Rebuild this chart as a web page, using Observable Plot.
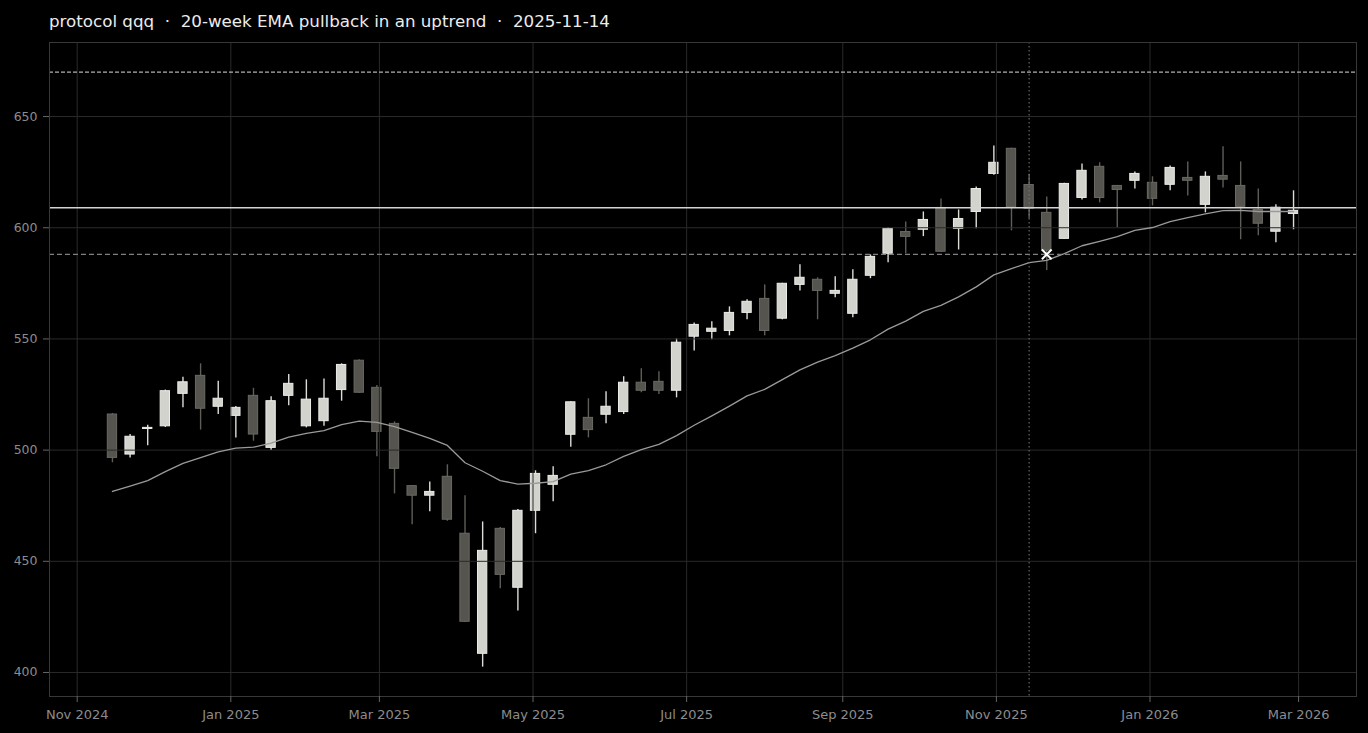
<!DOCTYPE html>
<html>
<head>
<meta charset="utf-8">
<script src="https://cdn.jsdelivr.net/npm/d3@7"></script>
<script src="https://cdn.jsdelivr.net/npm/@observablehq/plot@0.6"></script>
<style>
  html, body { margin: 0; padding: 0; background: #000; }
  #title { height: 36px; box-sizing: border-box; padding: 11px 0 0 49px; color: #ececec;
           font-family: "DejaVu Sans", sans-serif; font-size: 16.7px; line-height: 20px; white-space: pre; }
  #chart svg { display: block; }
</style>
</head>
<body>
<div id="title">protocol qqq  ·  20-week EMA pullback in an uptrend  ·  2025-11-14</div>
<div id="chart"></div>
<script>
const dates = ["2024-11-15","2024-11-22","2024-11-29","2024-12-06","2024-12-13","2024-12-20","2024-12-27",
"2025-01-03","2025-01-10","2025-01-17","2025-01-24","2025-01-31","2025-02-07","2025-02-14","2025-02-21","2025-02-28",
"2025-03-07","2025-03-14","2025-03-21","2025-03-28","2025-04-04","2025-04-11","2025-04-18","2025-04-25",
"2025-05-02","2025-05-09","2025-05-16","2025-05-23","2025-05-30","2025-06-06","2025-06-13","2025-06-20","2025-06-27",
"2025-07-04","2025-07-11","2025-07-18","2025-07-25","2025-08-01","2025-08-08","2025-08-15","2025-08-22","2025-08-29",
"2025-09-05","2025-09-12","2025-09-19","2025-09-26","2025-10-03","2025-10-10","2025-10-17","2025-10-24","2025-10-31",
"2025-11-07","2025-11-14","2025-11-21","2025-11-28","2025-12-05","2025-12-12","2025-12-19","2025-12-26",
"2026-01-02","2026-01-09","2026-01-16","2026-01-23","2026-01-30","2026-02-06","2026-02-13","2026-02-20","2026-02-27"];

const open  = [516,498,509.5,510.7,525.3,533.4,519.5,515.4,524.4,501,524.4,510.7,513,527,540.2,528,511.8,483.8,479.5,488,462.4,408.4,464.6,438.1,472.7,484.4,506.9,514.5,515.9,517.1,530.3,530.7,526.7,551,553.2,553.6,561.7,568,559.1,574.3,576.6,570.3,561.3,578.4,588.3,598.1,599.1,608.9,599.5,607.1,624.2,635.5,619.2,606.7,595,613.4,627.4,618.8,621.1,620.2,619.3,622.4,610.3,623.3,618.8,608,598.2,606.2];
const high  = [516.5,507,511.2,527,532.8,538.8,531,519.6,527.8,524,534,531.6,532,538.8,540.6,529,512.7,484,485.7,493.4,479.5,467.7,465.2,473.3,490.7,492.5,521.8,523.1,526.3,533,536.6,535.2,550,557.2,557.7,564.4,567.6,574.3,575,583.3,577.5,578,581.1,587.8,600,602.6,607.1,612.9,608,618.3,636.8,635.8,624,613.8,620,628.7,629.2,619,625.1,622.9,627.8,629.6,625.1,636.4,629.6,617.4,610.3,616.6];
const low   = [494.3,496.5,502,510.2,519,509,516,505.5,504,499.8,520,510,510.7,522,525.6,497,480.3,466.4,472.3,468,422.5,402.4,437.6,427.6,462.4,476.8,501.3,505.5,511.8,516,525.8,525,523.5,544.6,549.6,551.4,558.6,551.4,558.6,571.6,558.6,568.5,559.5,577.1,584.2,588.3,596,589,590,599.5,623.6,598.6,604,580.8,594.8,612.5,611.2,600,617.4,609.8,616.6,614.3,606.7,617.9,594.6,596.4,593.2,599.1];
const close = [496.5,506,510,526.5,530.5,518.6,523.1,519,507,522,529.8,522.7,523.1,538.3,525.8,508.2,491.6,479.5,481.2,468.7,422.8,454.7,443.9,472.7,489.3,488.4,521.5,509,519.5,530.3,526.7,526.7,548.3,556.3,554.6,561.7,566.7,553.6,574.8,577.5,571.6,571.6,576.6,586.9,599.5,595.9,603.5,589.2,603.9,617.4,629.2,609.2,608.5,589.7,619.7,625.6,613.4,617,624.2,613,626.9,621.1,622.9,621.6,609.4,601.8,609,607.6];
const ema20 = [481.4,483.8,486.3,490.3,494.0,496.6,499.2,500.9,501.3,503.1,505.8,507.5,508.8,511.5,513.0,512.5,510.6,508.0,505.3,502.1,494.3,490.5,486.3,484.7,485.1,485.8,489.2,490.8,493.4,497.2,500.2,502.6,506.5,511.2,515.4,519.8,524.4,527.3,531.7,536.1,539.6,542.5,545.9,549.6,554.4,558.0,562.4,565.1,568.9,573.4,578.8,581.6,584.3,585.3,588.4,591.9,593.9,596.0,598.8,600.1,602.7,604.5,606.2,607.7,607.8,607.3,607.3,607.3];

const xTicks = ["2024-11-01","2025-01-01","2025-03-01","2025-05-01","2025-07-01","2025-09-01","2025-11-01","2026-01-01","2026-03-01"];
const yTicks = [400,450,500,550,600,650];
const levelUpper = 670;
const levelPivot = 609;
const levelLower = 588;
const signalDate = "2025-11-14";
const touchDate = "2025-11-21";
const touchPrice = 588;
const xDomain = ["2024-10-21","2026-03-24"];
const yDomain = [389.2, 683.3];

const DAY = 864e5;
const data = dates.map((d, i) => ({
  date: new Date(d), open: open[i], high: high[i], low: low[i], close: close[i], ema: ema20[i],
  up: close[i] >= open[i]
}));
const half = 1.85 * DAY;

const chart = Plot.plot({
  width: 1368,
  height: 697,
  marginTop: 6,
  marginLeft: 49,
  marginRight: 12,
  marginBottom: 37,
  style: { background: "#000", color: "#8c8c8c", fontFamily: "DejaVu Sans, sans-serif", fontSize: "12px" },
  x: { type: "utc", domain: xDomain.map(d => new Date(d)), label: null },
  y: { domain: yDomain, label: null },
  marks: [
    Plot.ruleX(data, { x: "date", y1: "low", y2: "high", stroke: d => d.up ? "#dcdcd8" : "#5e5d57", strokeWidth: 1.4 }),
    Plot.rect(data, {
      x1: d => new Date(+d.date - half), x2: d => new Date(+d.date + half),
      y1: d => Math.min(d.open, d.close), y2: d => Math.max(d.open, d.close),
      fill: d => d.up ? "#d3d3ce" : "#55544e",
      stroke: d => d.up ? "#ecece8" : "#6a6963", strokeWidth: 1
    }),
    Plot.gridX(xTicks.map(d => new Date(d)), { stroke: "#2a2a2a", strokeOpacity: 1 }),
    Plot.gridY(yTicks, { stroke: "#2a2a2a", strokeOpacity: 1 }),
    Plot.line(data, { x: "date", y: "ema", stroke: "#9a9a9a", strokeWidth: 1.3 }),
    Plot.ruleY([levelUpper], { stroke: "#b0b0b0", strokeWidth: 1.3, strokeDasharray: "4,2" }),
    Plot.ruleY([levelPivot], { stroke: "#d4d4d4", strokeWidth: 1.6 }),
    Plot.ruleY([levelLower], { stroke: "#808080", strokeWidth: 1.4, strokeDasharray: "5,3" }),
    Plot.ruleX([new Date(signalDate)], { stroke: "#7a7a7a", strokeWidth: 1, strokeDasharray: "1.5,2.5" }),
    Plot.dot([{ date: new Date(touchDate), price: touchPrice }], { x: "date", y: "price", symbol: "times", r: 4.5, stroke: "#ffffff", strokeWidth: 2 }),
    Plot.frame({ stroke: "#383838" }),
    Plot.axisX(xTicks.map(d => new Date(d)), { tickFormat: d3.utcFormat("%b %Y"), stroke: "#666", tickSize: 6, tickPadding: 7, fill: "#8c8c8c", fontSize: 13 }),
    Plot.axisY(yTicks, { stroke: "#666", tickSize: 6, tickPadding: 6, fill: "#8c8c8c", fontSize: 12.5 })
  ]
});
document.getElementById("chart").appendChild(chart);
</script>
</body>
</html>
